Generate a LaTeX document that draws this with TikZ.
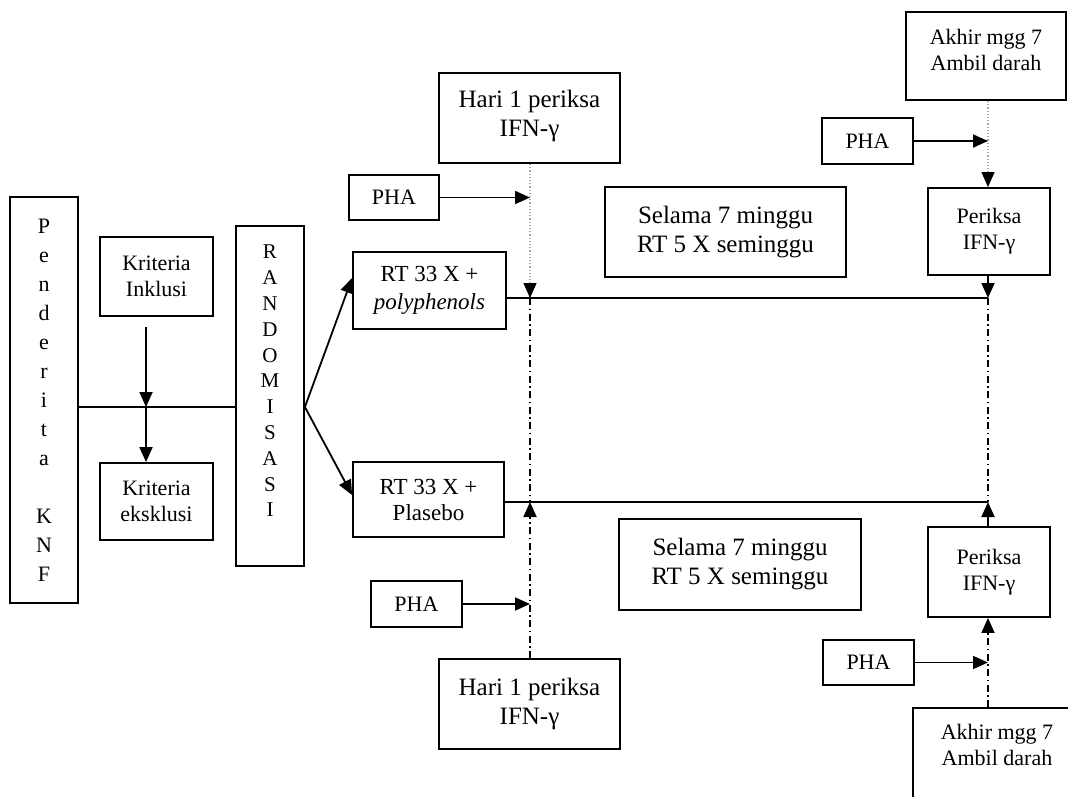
\documentclass[tikz,border=0pt]{standalone}
\usepackage{fontspec}
\setmainfont{Liberation Serif}
\usetikzlibrary{arrows.meta}

\begin{document}
\begin{tikzpicture}
  [x=1pt,y=-1pt,
   every node/.style={draw,line width=1.8pt,align=center,inner sep=0pt},
   big/.style={font=\fontsize{25}{29}\selectfont},
   small/.style={font=\fontsize{22}{26}\selectfont},
   arr/.style={-{Triangle[length=15pt,width=13pt,color=black]},line width=1.8pt},
   dotline/.style={draw=gray!70,line width=1.2pt,dotted},
   dashdot/.style={line width=1.8pt,dash pattern=on 7pt off 3.5pt on 1.5pt off 3.5pt}]
  \useasboundingbox (0,0) rectangle (1068,796);
  \clip (0,0) rectangle (1068,796);

  % left part
  \node[font=\fontsize{22}{29}\selectfont,minimum width=68,minimum height=406] (pend) at (44,400) {P\\e\\n\\d\\e\\r\\i\\t\\a\\[29pt]K\\N\\F};
  \node[small,minimum width=113,minimum height=79] (inkl) at (156.5,276.5) {Kriteria\\Inklusi};
  \node[small,minimum width=113,minimum height=77] (eksk) at (156.5,501.5) {Kriteria\\eksklusi};
  \node[font=\fontsize{21}{25.8}\selectfont,minimum width=68,minimum height=340] (rand) at (270,396) {R\\A\\N\\D\\O\\M\\I\\S\\A\\S\\I\\[4pt]\mbox{}};

  % treatment groups
  \node[font=\fontsize{23}{28}\selectfont,minimum width=153,minimum height=77] (rtpoly) at (429.5,290.5) {RT 33 X +\\\textit{polyphenols}};
  \node[font=\fontsize{23}{26}\selectfont,minimum width=151,minimum height=75] (rtplas) at (428.5,499.5) {RT 33 X +\\Plasebo};

  % day 1
  \node[big,minimum width=181,minimum height=90] (hariA) at (529.5,118) {Hari 1 periksa\\IFN-γ\\[-19pt]\mbox{}};
  \node[big,minimum width=181,minimum height=90] (hariB) at (529.5,704) {Hari 1 periksa\\IFN-γ};
  \node[small,minimum width=90,minimum height=45] (phaA) at (394,197.5) {PHA};
  \node[small,minimum width=91,minimum height=46] (phaC) at (416.5,604) {PHA};
  \node[big,minimum width=241,minimum height=90] (selA) at (725.5,232) {Selama 7 minggu\\RT 5 X seminggu};
  \node[big,minimum width=242,minimum height=91] (selB) at (740,564.5) {Selama 7 minggu\\RT 5 X seminggu};

  % week 7
  \node[small,minimum width=160,minimum height=88] (akhirA) at (986,56) {Akhir mgg 7\\Ambil darah\\[-14pt]\mbox{}};
  \node[small,minimum width=91,minimum height=46] (phaB) at (867.5,141) {PHA};
  \node[small,minimum width=122,minimum height=87] (perA) at (989,231.5) {Periksa\\IFN-γ};
  \node[small,minimum width=122,minimum height=90] (perB) at (989,572) {Periksa\\IFN-γ};
  \node[small,minimum width=91,minimum height=45] (phaD) at (868.5,662.5) {PHA};
  \node[small,minimum width=168,minimum height=112] (akhirB) at (997,764) {Akhir mgg 7\\Ambil darah\\[12pt]\mbox{}};

  \coordinate (j) at (146,407);
  \coordinate (c1) at (530,298);
  \coordinate (c2) at (530,502);
  \coordinate (r1) at (988,298);
  \coordinate (r2) at (988,502);

  \draw[line width=1.8pt] (pend.east |- j) -- (rand.west |- j);
  \draw[arr] ([xshift=-10.5pt,yshift=-10pt]inkl.south) -- (j);
  \draw[arr] (j) -- (j |- eksk.north);
  \draw[arr] (rand.east |- j) -- ([yshift=12.5pt]rtpoly.west);
  \draw[arr] (rand.east |- j) -- ([yshift=4.5pt]rtplas.west);

  \draw[line width=1.8pt] (rtpoly.east |- c1) -- (r1);
  \draw[line width=1.8pt] (rtplas.east |- c2) -- (r2);

  \draw[arr,dotline] (hariA.south -| c1) -- (c1);
  \draw[dashdot] (c1) -- (c2);
  \draw[arr,dashdot] (hariB.north -| c2) -- (c2);

  \draw[arr,dotline] (akhirA.south -| r1) -- (perA.north -| r1);
  \draw[arr] (perA.south -| r1) -- (r1);
  \draw[dashdot] (r1) -- (r2);
  \draw[arr] (perB.north -| r2) -- (r2);
  \draw[arr,dashdot] (akhirB.north -| r2) -- (perB.south -| r2);

  \foreach \p/\v in {phaA/c1,phaC/c1,phaB/r1,phaD/r1}
    \draw[arr] (\p) -- (\p -| \v);

\end{tikzpicture}
\end{document}
